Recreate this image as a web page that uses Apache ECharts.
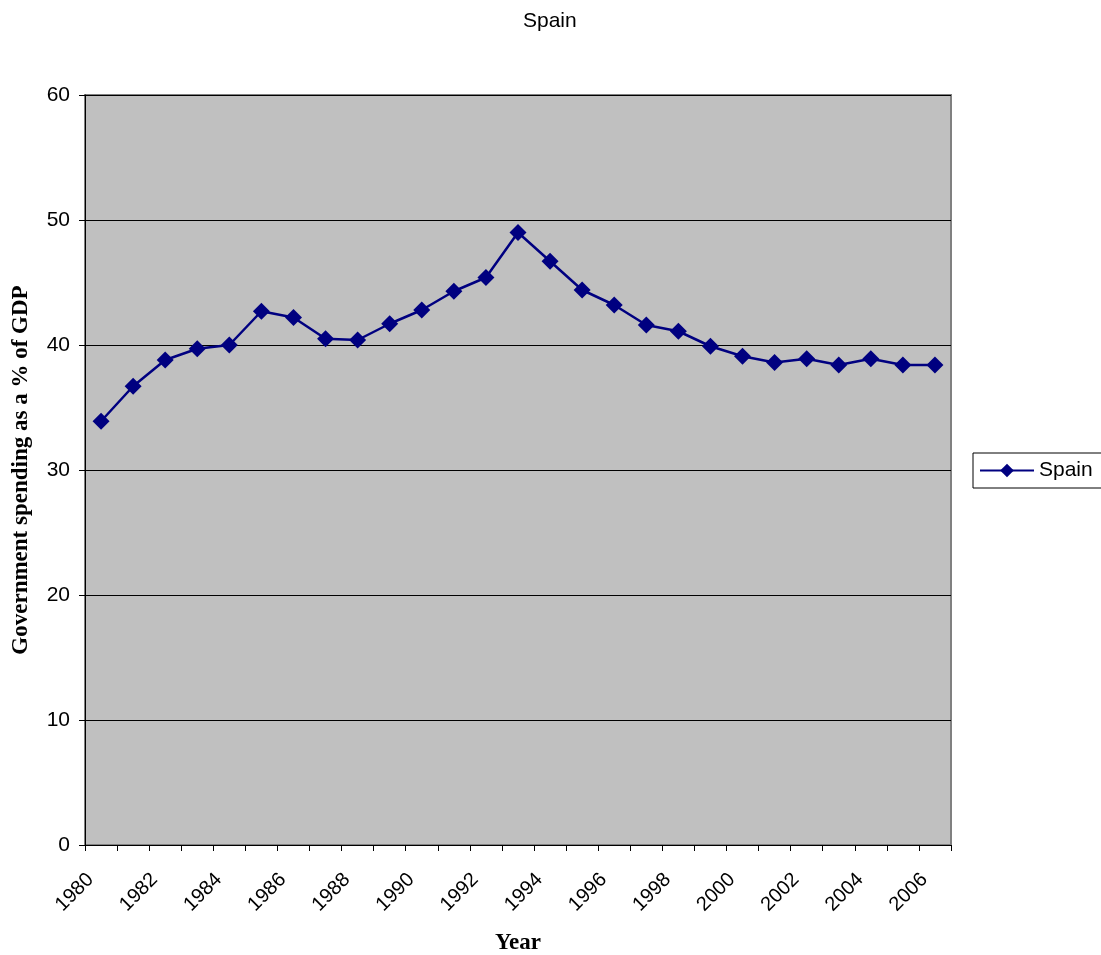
<!DOCTYPE html>
<html>
<head>
<meta charset="utf-8">
<script src="https://cdn.jsdelivr.net/npm/echarts@6/dist/echarts.min.js"></script>
<style>
  html, body { margin: 0; padding: 0; background: #fff; }
  #chart { width: 1101px; height: 955px; }
</style>
</head>
<body>
<div id="chart"></div>
<script>
// Government spending in Spain, % of GDP, by year
const years = ['1980','1981','1982','1983','1984','1985','1986','1987','1988','1989',
               '1990','1991','1992','1993','1994','1995','1996','1997','1998','1999',
               '2000','2001','2002','2003','2004','2005','2006'];
const spain = [33.9, 36.7, 38.8, 39.7, 40.0, 42.7, 42.2, 40.5, 40.4, 41.7,
               42.8, 44.3, 45.4, 49.0, 46.7, 44.4, 43.2, 41.6, 41.1, 39.9,
               39.1, 38.6, 38.9, 38.4, 38.9, 38.4, 38.4];
const yTicks = { min: 0, max: 60, interval: 10 };

const sans = '"Liberation Sans", Arial, sans-serif';
const serif = '"Liberation Serif", "Times New Roman", serif';

const chart = echarts.init(document.getElementById('chart'), null, { renderer: 'canvas' });
chart.setOption({
  animation: false,
  backgroundColor: '#ffffff',
  title: {
    text: 'Spain',
    left: 518,
    top: 6,
    textStyle: { fontFamily: sans, fontSize: 21, fontWeight: 'normal', color: '#000' }
  },
  legend: {
    data: ['Spain'],
    left: 973,
    top: 453,
    orient: 'vertical',
    backgroundColor: '#ffffff',
    borderColor: '#000',
    borderWidth: 1,
    borderRadius: 0,
    padding: [7, 20, 7, 6],
    itemWidth: 54,
    itemHeight: 17,
    itemGap: 0,
    textStyle: { fontFamily: sans, fontSize: 21, color: '#000' }
  },
  grid: {
    left: 85, right: 150, top: 95, bottom: 110,
    outerBoundsMode: 'none',
    containLabel: false,
    show: true,
    backgroundColor: '#C0C0C0',
    borderColor: '#808080',
    borderWidth: 2
  },
  xAxis: {
    type: 'category',
    data: years,
    boundaryGap: true,
    name: 'Year',
    nameLocation: 'middle',
    nameGap: 87,
    nameTextStyle: { fontFamily: serif, fontSize: 23, fontWeight: 'bold', color: '#000' },
    axisLine: { show: true, lineStyle: { color: '#000', width: 1 } },
    axisTick: { show: true, interval: 0, length: 6, lineStyle: { color: '#000' } },
    axisLabel: {
      interval: 1,
      rotate: 45,
      margin: 21,
      padding: [0, 15, 0, 0],
      fontFamily: sans, fontSize: 20, color: '#000'
    },
    splitLine: { show: false }
  },
  yAxis: {
    type: 'value',
    min: yTicks.min,
    max: yTicks.max,
    interval: yTicks.interval,
    name: 'Government spending as a % of GDP',
    nameLocation: 'middle',
    nameGap: 52,
    nameTextStyle: { fontFamily: serif, fontSize: 23, fontWeight: 'bold', color: '#000' },
    axisLine: { show: true, lineStyle: { color: '#000', width: 1 } },
    axisTick: { show: true, length: 6, lineStyle: { color: '#000' } },
    axisLabel: { margin: 15, fontFamily: sans, fontSize: 21, color: '#000' },
    splitLine: { show: true, lineStyle: { color: '#000', width: 1 } }
  },
  series: [{
    name: 'Spain',
    type: 'line',
    data: spain,
    symbol: 'diamond',
    symbolSize: 17,
    color: '#000080',
    lineStyle: { color: '#000080', width: 2.5 },
    itemStyle: { color: '#000080' }
  }]
});
</script>
</body>
</html>
